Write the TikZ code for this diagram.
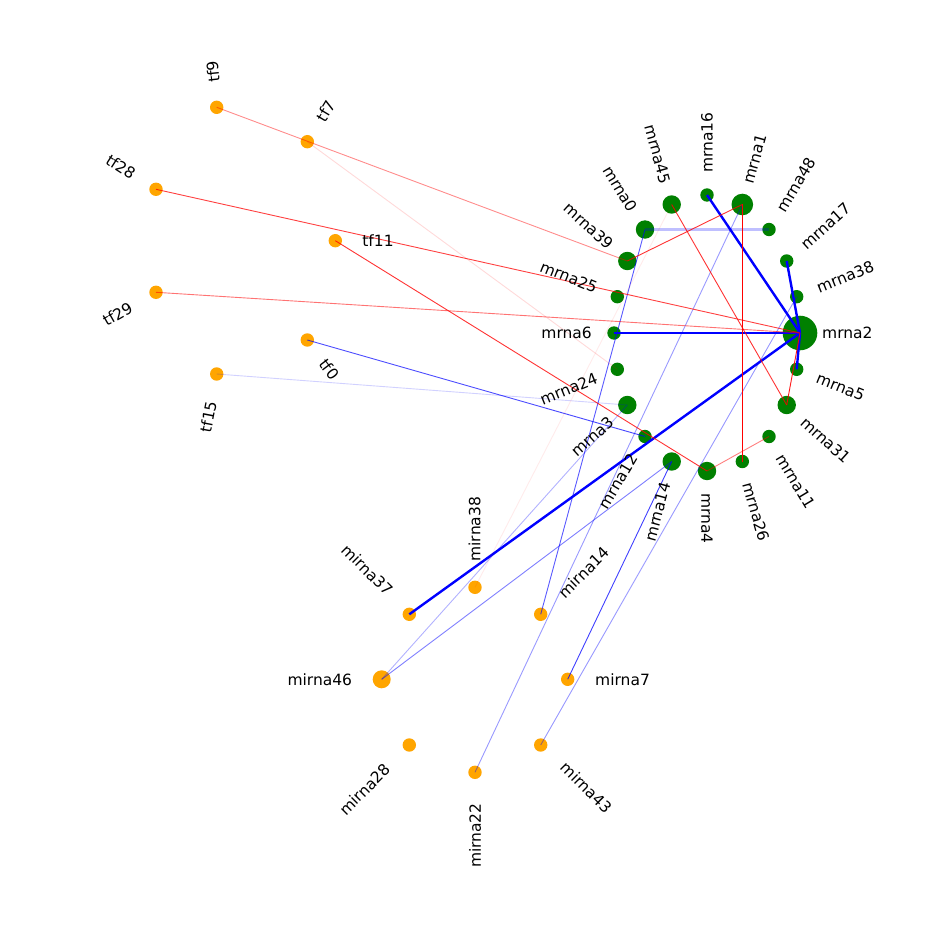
\documentclass[tikz,border=0pt]{standalone}
\usepackage{fontspec}
\setmainfont{DejaVu Sans}
\usetikzlibrary{calc}
\definecolor{mgreen}{RGB}{0,128,0}
\definecolor{morange}{RGB}{255,165,0}
\newcommand\lblR[3]{\node[lbl,rotate=#2,anchor=west] (l#1) at ($(#1.center)+(#2:22)$) {#3};}
\newcommand\lblL[3]{\node[lbl,rotate={#2-180},anchor=east] (l#1) at ($(#1.center)+(#2:22)$) {#3};}
\begin{document}
\begin{tikzpicture}[x=1pt,y=1pt,
  gs/.style={circle,fill=mgreen,draw=none,inner sep=0pt,minimum size=13.4pt},
  gm/.style={circle,fill=mgreen,draw=none,inner sep=0pt,minimum size=18.4pt},
  os/.style={circle,fill=morange,draw=none,inner sep=0pt,minimum size=13.4pt},
  lbl/.style={inner sep=0pt,font=\fontsize{15.5}{18}\selectfont},
  bthick/.style={blue,line width=2.4pt},
  bthin/.style={blue,line width=0.9pt,draw opacity=#1},
  rthin/.style={red,line width=0.9pt,draw opacity=#1},
]
\useasboundingbox[fill=white] (0,0) rectangle (950,-944);

% mrna ring
\node[circle,fill=mgreen,inner sep=0pt,minimum size=34.6pt] (mrna2) at (800,-333) {};
\node[gs] (mrna38) at (796.7,-296.7) {};
\node[gs] (mrna17) at (786.7,-261) {};
\node[gs] (mrna48) at (769,-229.5) {};
\node[circle,fill=mgreen,inner sep=0pt,minimum size=21.6pt] (mrna1) at (742.3,-204.5) {};
\node[gs] (mrna16) at (707,-195) {};
\node[gm] (mrna45) at (671.7,-204.5) {};
\node[gm] (mrna0) at (645,-229.5) {};
\node[gm] (mrna39) at (627.3,-261) {};
\node[gs] (mrna25) at (617.3,-296.7) {};
\node[gs] (mrna6) at (614,-333) {};
\node[gs] (mrna24) at (617.3,-369.3) {};
\node[gm] (mrna3) at (627.3,-405) {};
\node[gs] (mrna12) at (645,-436.5) {};
\node[gm] (mrna14) at (671.7,-461.5) {};
\node[gm] (mrna4) at (707,-471) {};
\node[gs] (mrna26) at (742.3,-461.5) {};
\node[gs] (mrna11) at (769,-436.5) {};
\node[gm] (mrna31) at (786.7,-405) {};
\node[gs] (mrna5) at (796.7,-369.3) {};

% tf group
\node[os] (tf9) at (216.7,-107.3) {};
\node[os] (tf7) at (307.3,-141.7) {};
\node[os] (tf28) at (156,-189.3) {};
\node[os] (tf11) at (335.3,-240.7) {};
\node[os] (tf29) at (156,-292.3) {};
\node[os] (tf0) at (307.3,-340) {};
\node[os] (tf15) at (216.7,-374) {};

% mirna group
\node[os] (mirna37) at (409.3,-614.3) {};
\node[os] (mirna38) at (475,-587.3) {};
\node[os] (mirna14) at (540.7,-614.3) {};
\node[circle,fill=morange,inner sep=0pt,minimum size=18pt] (mirna46) at (381.7,-679.3) {};
\node[os] (mirna7) at (567.7,-679.3) {};
\node[os] (mirna28) at (409.3,-745) {};
\node[os] (mirna22) at (475,-772.3) {};
\node[os] (mirna43) at (540.7,-745) {};

% edges
\draw[bthick] (mrna2.center) -- (mrna16.center);
\draw[bthick] (mrna2.center) -- (mrna17.center);
\draw[bthick] (mrna2.center) -- (mrna5.center);
\draw[bthick] (mrna2.center) -- (mrna6.center);
\draw[bthick] (mrna2.center) -- (mirna37.center);
\draw[bthin=0.7] (tf0.center) -- (mrna12.center);
\draw[bthin=0.65] (mirna14.center) -- (mrna0.center);
\draw[bthin=0.75] (mirna7.center) -- (mrna14.center);
\draw[bthin=0.5] (mirna46.center) -- (mrna14.center);
\draw[bthin=0.18] (tf15.center) -- (mrna3.center);
\draw[bthin=0.3] (mirna46.center) -- (mrna3.center);
\draw[bthin=0.4] (mirna22.center) -- (mrna1.center);
\draw[bthin=0.4] (mirna43.center) -- (mrna38.center);
\draw[blue,line width=2.4pt,draw opacity=0.25] (mrna0.center) -- (mrna48.center);
\draw[red,line width=1.1pt] (mrna1.center) -- (mrna26.center);
\draw[rthin=0.8] (mrna1.center) -- (mrna39.center);
\draw[rthin=0.8] (mrna45.center) -- (mrna31.center);
\draw[rthin=0.9] (mrna31.center) -- (mrna2.center);
\draw[rthin=0.8] (tf11.center) -- (mrna4.center);
\draw[rthin=0.75] (tf28.center) -- (mrna2.center);
\draw[rthin=0.55] (tf29.center) -- (mrna2.center);
\draw[rthin=0.45] (tf9.center) -- (mrna39.center);
\draw[rthin=0.5] (mrna11.center) -- (mrna4.center);
\draw[rthin=0.15] (tf7.center) -- (mrna24.center);
\draw[rthin=0.08] (mirna38.center) -- (mrna45.center);

% mrna labels
\lblR{mrna2}{0}{mrna2}
\lblR{mrna38}{22}{mrna38}
\lblR{mrna17}{42.1}{mrna17}
\lblR{mrna48}{59.1}{mrna48}
\lblR{mrna1}{74.6}{mrna1}
\lblR{mrna16}{90}{mrna16}
\lblL{mrna45}{105.4}{mrna45}
\lblL{mrna0}{120.9}{mrna0}
\lblL{mrna39}{137.9}{mrna39}
\lblL{mrna25}{158}{mrna25}
\lblL{mrna6}{180}{mrna6}
\lblL{mrna24}{202}{mrna24}
\lblL{mrna3}{222.1}{mrna3}
\lblL{mrna12}{239.1}{mrna12}
\lblL{mrna14}{254.6}{mrna14}
\lblR{mrna4}{-90}{mrna4}
\lblR{mrna26}{-74.6}{mrna26}
\lblR{mrna11}{-59.1}{mrna11}
\lblR{mrna31}{-42.1}{mrna31}
\lblR{mrna5}{-22}{mrna5}

% tf labels
\node[lbl,rotate=96] (ltf9) at (213,-71.7) {tf9};
\node[lbl,rotate=59] (ltf7) at (325.8,-110.8) {tf7};
\node[lbl,rotate=-32.7] (ltf28) at (120.8,-166.7) {tf28};
\node[lbl] (ltf11) at (378,-240.7) {tf11};
\node[lbl,rotate=29.6] (ltf29) at (117.5,-314.2) {tf29};
\node[lbl,rotate=-53] (ltf0) at (329.2,-369.2) {tf0};
\node[lbl,rotate=79] (ltf15) at (208.3,-416.7) {tf15};

% mirna labels
\node[lbl,rotate=-45] (lmirna37) at (367.5,-570) {mirna37};
\node[lbl,rotate=90] (lmirna38) at (474.5,-529.2) {mirna38};
\node[lbl,rotate=45] (lmirna14) at (584,-572.5) {mirna14};
\node[lbl] (lmirna46) at (319.8,-679.3) {mirna46};
\node[lbl] (lmirna7) at (622.5,-679.3) {mirna7};
\node[lbl,rotate=45] (lmirna28) at (365,-789.2) {mirna28};
\node[lbl,rotate=90] (lmirna22) at (475,-835.7) {mirna22};
\node[lbl,rotate=-45] (lmirna43) at (586.7,-787.5) {mirna43};
\end{tikzpicture}
\end{document}
